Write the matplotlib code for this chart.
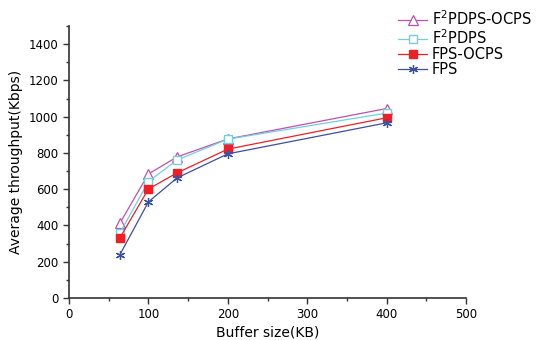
import matplotlib
matplotlib.use("Agg")
import matplotlib.pyplot as plt
from matplotlib.ticker import MultipleLocator

buffer_kb = [64, 100, 136, 200, 400]
f2pdps_ocps = [412, 684, 778, 877, 1045]
f2pdps = [358, 642, 761, 876, 1020]
fps_ocps = [331, 601, 690, 821, 994]
fps = [238, 530, 662, 795, 966]

fig = plt.figure(figsize=(5.39, 3.40), dpi=100)
ax = fig.add_axes([0.128, 0.1235, 0.7366, 0.80])

l1, = ax.plot(buffer_kb, f2pdps_ocps, color="#c050b0", lw=0.9, marker="^", ms=6.5,
              mfc="white", mec="#c050b0", mew=0.9, label="F$^2$PDPS-OCPS")
l2, = ax.plot(buffer_kb, f2pdps, color="#70d0e0", lw=0.9, marker="s", ms=5.5,
              mfc="white", mec="#70d0e0", mew=1.0, label="F$^2$PDPS")
l3, = ax.plot(buffer_kb, fps_ocps, color="#ee2025", lw=0.9, marker="s", ms=5.5,
              mfc="#ee2025", mec="#ee2025", label="FPS-OCPS")
l4, = ax.plot(buffer_kb, fps, color="#3a50a0", lw=0.9, marker=(6, 2, 0), ms=6.5,
              mec="#3a50a0", mew=0.9, label="FPS")

ax.set_xlim(0, 500)
ax.set_ylim(0, 1500)
ax.xaxis.set_major_locator(MultipleLocator(100))
ax.xaxis.set_minor_locator(MultipleLocator(50))
ax.yaxis.set_minor_locator(MultipleLocator(100))
ax.set_yticks([0, 200, 400, 600, 800, 1000, 1200, 1400])
ax.spines["top"].set_visible(False)
ax.spines["right"].set_visible(False)
for s in ("left", "bottom"):
    ax.spines[s].set_linewidth(1.2)
    ax.spines[s].set_color("#333333")
ax.tick_params(which="major", direction="out", length=4, width=1, labelsize=8.5, color="#333333")
ax.tick_params(which="minor", direction="out", length=2.5, width=1, color="#333333")
ax.set_xlabel("Buffer size(KB)", fontsize=10, labelpad=3)
ax.set_ylabel("Average throughput(Kbps)", fontsize=10, labelpad=4)

fig.legend(handles=[l1, l2, l3, l4], loc="upper left", bbox_to_anchor=(0.728, 0.99),
           frameon=False, fontsize=10.5, handlelength=2.0, handletextpad=0.3,
           labelspacing=0.0, borderaxespad=0)

fig.savefig("out.png", dpi=100)
